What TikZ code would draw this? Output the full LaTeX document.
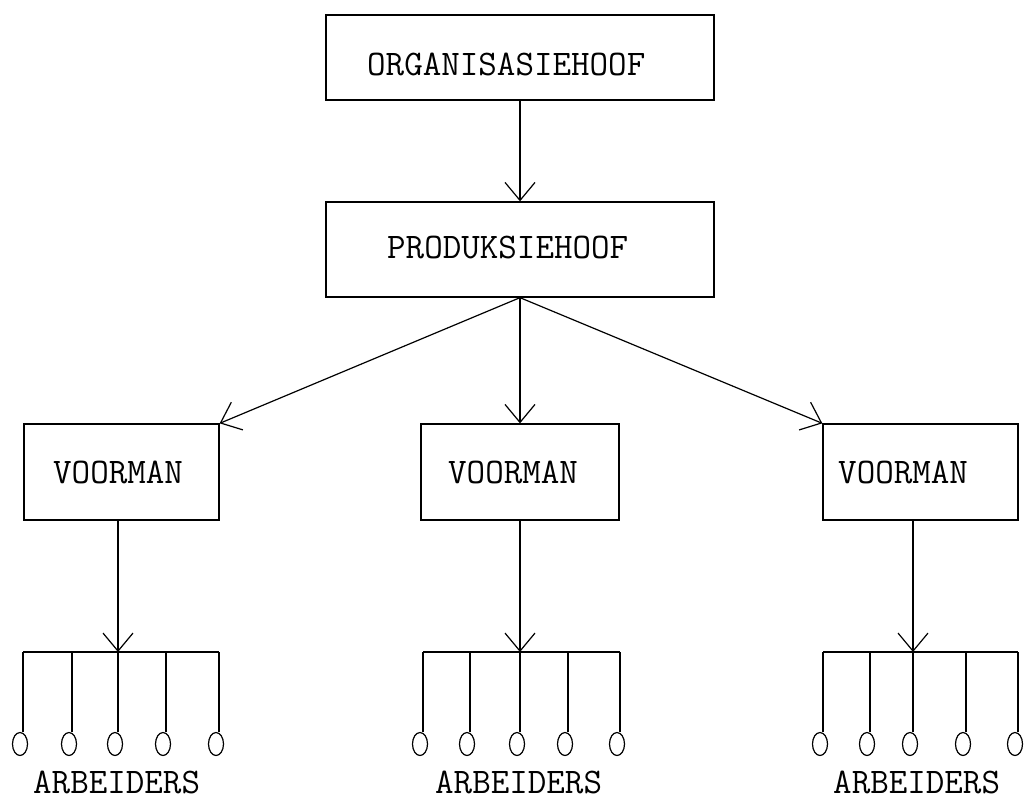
\documentclass[tikz,border=0pt]{standalone}
\usetikzlibrary{arrows.meta,shapes.geometric}
\begin{document}
\begin{tikzpicture}[x=1pt,y=-1pt,
  box/.style={draw, line width=1.3pt, inner sep=0pt, rectangle},
  lbl/.style={font=\fontsize{36}{40}\selectfont\ttfamily, inner sep=0pt, anchor=base west},
  arr/.style={line width=1.2pt, -{Straight Barb[length=18pt,width=30pt]}},
  ln/.style={line width=1.2pt},
  wkr/.style={draw, ellipse, line width=1.2pt, minimum width=15pt, minimum height=23pt, inner sep=0pt}]
\useasboundingbox (0,0) rectangle (1028,807);
% boxes
\node[box, minimum width=388pt, minimum height=85pt] (org) at (520,57.5) {};
\node[box, minimum width=388pt, minimum height=95pt] (prod) at (520,249.5) {};
\node[box, minimum width=195pt, minimum height=96pt] (v1) at (121.5,472) {};
\node[box, minimum width=198pt, minimum height=96pt] (v2) at (520,472) {};
\node[box, minimum width=195pt, minimum height=96pt] (v3) at (920.5,472) {};
% labels
\node[lbl] (t0) at (367,75) {ORGANISASIEHOOF};
\node[lbl] (t1) at (387,258) {PRODUKSIEHOOF};
\node[lbl] (tv1) at (53,483) {VOORMAN};
\node[lbl] (tv2) at (448,483) {VOORMAN};
\node[lbl] (tv3) at (838,483) {VOORMAN};
\node[lbl] (a1) at (33,793) {ARBEIDERS};
\node[lbl] (a2) at (435,793) {ARBEIDERS};
\node[lbl] (a3) at (833,793) {ARBEIDERS};
% connectors
\draw[arr] (org.south) -- (prod.north);
\draw[arr] (prod.south) -- (v1.north east);
\draw[arr] (prod.south) -- (v2.north);
\draw[arr] (prod.south) -- (v3.north west);
% worker groups
\foreach \g/\v/\j/\xs in {1/v1/118/{23,72,118,166,219}, 2/v2/520/{423,470,520,568,620}, 3/v3/913/{823,870,913,966,1018}} {
  \coordinate (j\g) at (\j,652);
  \draw[arr] (\v.south -| j\g) -- (j\g);
  \foreach \x [count=\k] in \xs {
    \coordinate (w\g\k) at (\x,652);
    \node[wkr] (o\g\k) at (\x-3,744) {};
    \draw[ln] (w\g\k) -- (w\g\k |- o\g\k.north);
  }
  \draw[ln] (w\g1) -- (w\g5);
}
\end{tikzpicture}
\end{document}
